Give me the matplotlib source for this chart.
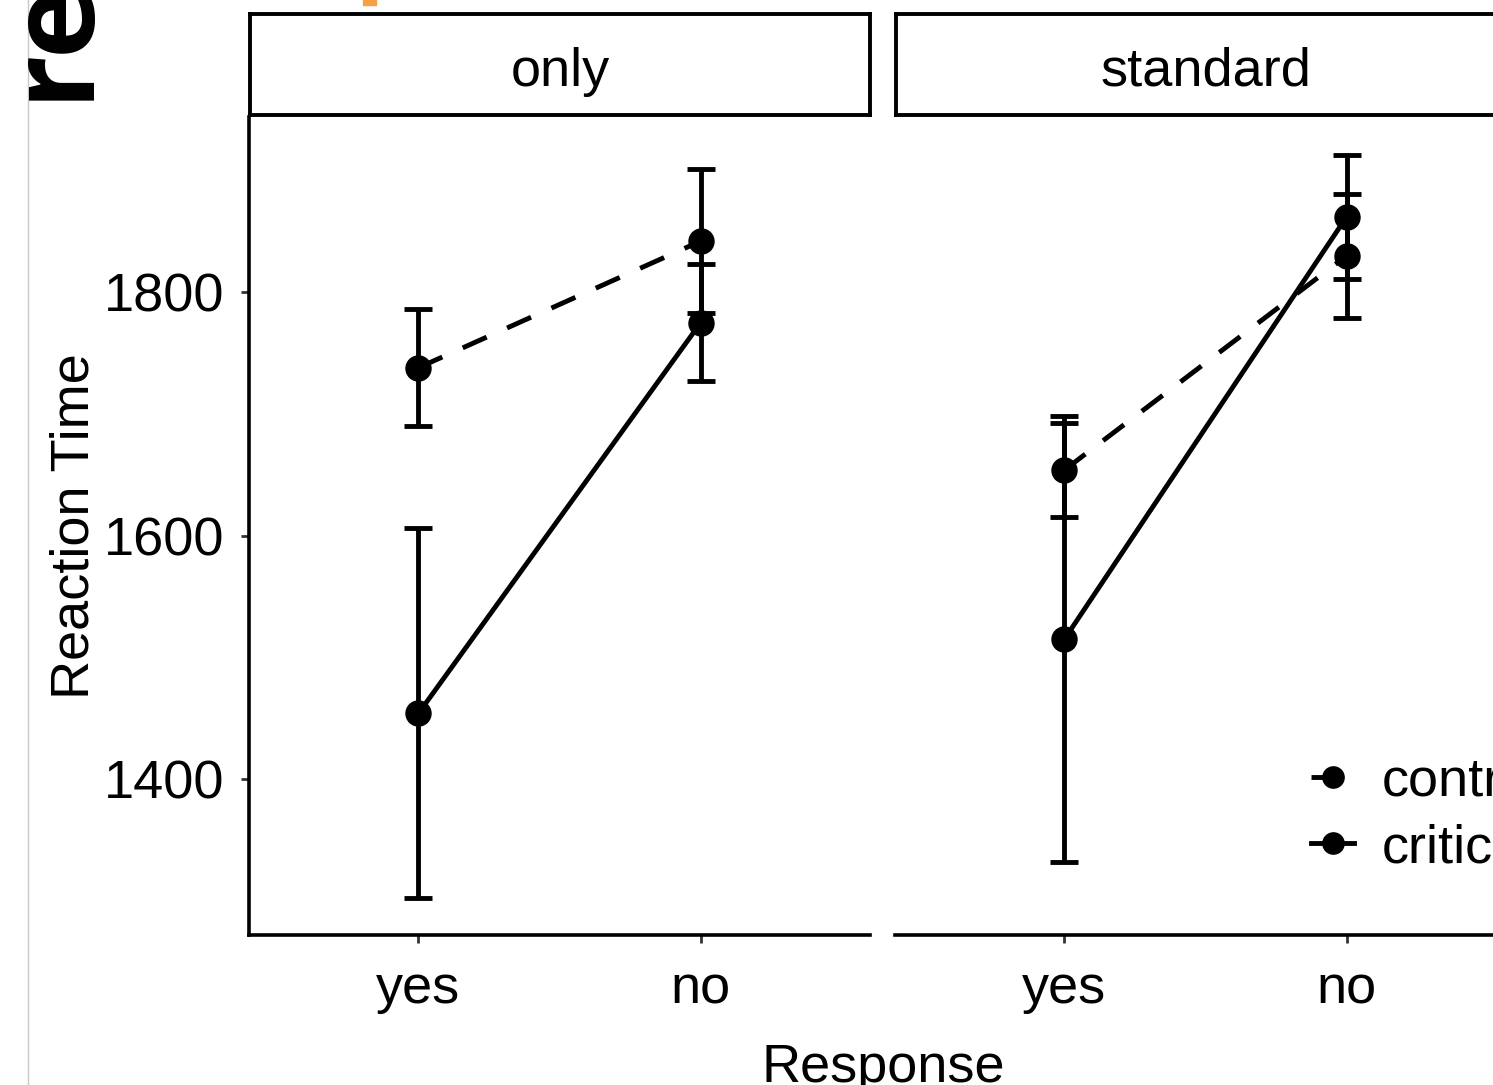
import matplotlib
matplotlib.use("Agg")
import matplotlib.pyplot as plt
from matplotlib.lines import Line2D
from matplotlib.patches import Rectangle

# ---- data ----
panels = ["only", "standard"]
responses = ["yes", "no"]
conditions = ["control", "critical"]
means = {
    "only":     {"control": [1738, 1842], "critical": [1454, 1775]},
    "standard": {"control": [1654, 1830], "critical": [1515, 1862]},
}
errs = {
    "only":     {"control": [48, 59], "critical": [152, 48]},
    "standard": {"control": [39, 51], "critical": [183, 51]},
}
yticks = [1400, 1600, 1800]
ylim = (1272, 1944)

FONT = ["Liberation Sans Narrow", "Liberation Sans", "DejaVu Sans"]
plt.rcParams["font.family"] = FONT

W, H = 1493, 1085
DPI = 100
fig = plt.figure(figsize=(W / DPI, H / DPI), dpi=DPI)

def fr(x0, y0, x1, y1):
    return [x0 / W, 1 - y1 / H, (x1 - x0) / W, (y1 - y0) / H]

FS = 39
LW = 3.5
MS = 18
styles = {"control": (0, (5.4, 4.6)), "critical": "-"}

panel_x = [249, 895]
pw = 621
for i, p in enumerate(panels):
    x0 = panel_x[i]
    ax = fig.add_axes(fr(x0, 117, x0 + pw, 935))
    xs = [1, 2]
    for c in conditions:
        ax.plot(xs, means[p][c], color="black", lw=LW, linestyle=styles[c],
                marker="o", markersize=MS, zorder=3)
        ax.errorbar(xs, means[p][c], yerr=errs[p][c], fmt="none",
                    ecolor="black", elinewidth=LW, capsize=10, capthick=LW, zorder=2)
    ax.set_xlim(0.4, 2.6)
    ax.set_ylim(*ylim)
    ax.set_xticks(xs)
    ax.set_xticklabels(responses, fontsize=FS)
    for s in ["top", "right"]:
        ax.spines[s].set_visible(False)
    ax.spines["bottom"].set_linewidth(2.6)
    ax.spines["left"].set_linewidth(2.6)
    ax.tick_params(axis="x", length=6, width=2, color="#333333", pad=15,
                   labelcolor="black")
    ax.tick_params(axis="y", length=6, width=2, color="#333333", pad=12,
                   labelcolor="black")
    if i == 0:
        ax.set_yticks(yticks)
        ax.set_yticklabels([str(t) for t in yticks], fontsize=FS)
        ax.set_ylabel("Reaction Time", fontsize=FS, labelpad=3)
    else:
        ax.spines["left"].set_visible(False)
        ax.set_yticks([])
    # strip
    sax = fig.add_axes(fr(x0 + 1, 14, x0 + pw, 115))
    sax.set_xticks([]); sax.set_yticks([])
    for s in sax.spines.values():
        s.set_linewidth(2.8)
    sax.text(0.5, 0.43, p, ha="center", va="center", fontsize=FS,
             transform=sax.transAxes)

fig.text(883 / W, 1 - 1068 / H, "Response", ha="center", va="center", fontsize=FS)

handles = [Line2D([0], [0], color="black", lw=LW, linestyle=styles[c], marker="o",
                  markersize=MS * 0.85) for c in conditions]
fig.legend(handles, conditions, loc="upper left", bbox_to_anchor=(1311 / W, 1 - 757 / H),
           frameon=False, fontsize=FS, handlelength=0.8, handletextpad=0.5,
           labelspacing=0.3, borderaxespad=0, borderpad=0)

# decorations from surrounding slide
fig.add_artist(Line2D([28 / W, 28 / W], [0, 1], color="#c8c8c8", lw=1))
fig.add_artist(Rectangle((363 / W, 1 - 5 / H), 13 / W, 5 / H, color="#F7A043",
                         transform=fig.transFigure))
fig.text(114 / W, 1 - 100 / H, "re", rotation=90, ha="right", va="bottom",
         fontsize=86, fontweight="bold", family=["Open Sans", "DejaVu Sans"])

fig.savefig("out.png", dpi=DPI)
